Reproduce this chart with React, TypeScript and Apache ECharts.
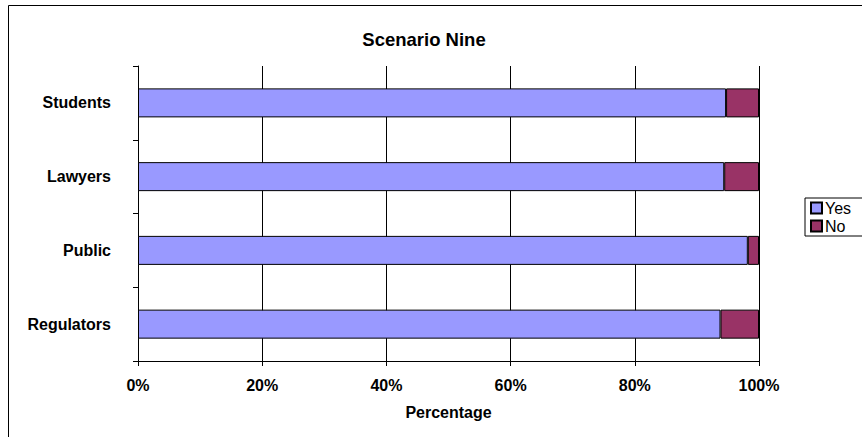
import React, { useEffect, useRef } from "react";
import * as echarts from "echarts";

// Survey groups, top to bottom
const categories = ["Students", "Lawyers", "Public", "Regulators"];
// Share of answers per group, in percent
const yesValues = [94.7, 94.4, 98.2, 93.8];
const noValues = [5.3, 5.6, 1.8, 6.2];
const seriesNames = ["Yes", "No"];
const xTicks = [0, 20, 40, 60, 80, 100];

const FONT = "'Liberation Sans', Arial, sans-serif";

export default function App() {
  const ref = useRef<HTMLDivElement>(null);

  useEffect(() => {
    if (!ref.current) return;
    const chart = echarts.init(ref.current, undefined, { renderer: "svg" });
    chart.setOption({
      animation: false,
      backgroundColor: "#ffffff",
      textStyle: { fontFamily: FONT, color: "#000" },
      title: {
        text: "Scenario Nine",
        left: 419,
        top: 25,
        textAlign: "center",
        textStyle: { fontFamily: FONT, fontSize: 18.5, fontWeight: "bold", color: "#000" },
      },
      graphic: [
        {
          type: "rect",
          silent: true,
          shape: { x: 8.5, y: 5.5, width: 900, height: 500 },
          style: { fill: "none", stroke: "#000", lineWidth: 1 },
        },
      ],
      legend: {
        orient: "vertical",
        left: 805,
        top: 198,
        data: seriesNames,
        icon: "rect",
        itemWidth: 11,
        itemHeight: 11,
        itemGap: 2,
        padding: [2, 12, 2, 5],
        borderColor: "#000",
        borderWidth: 1,
        textStyle: { fontFamily: FONT, fontSize: 16, color: "#000", padding: [0, 0, 0, -2] },
      },
      grid: { left: 138, right: 103, top: 66, bottom: 76, containLabel: false },
      xAxis: {
        type: "value",
        min: xTicks[0],
        max: xTicks[xTicks.length - 1],
        interval: 20,
        name: "Percentage",
        nameLocation: "middle",
        nameGap: 43,
        nameTextStyle: { fontFamily: FONT, fontSize: 16, fontWeight: "bold", color: "#000" },
        axisLine: { show: true, lineStyle: { color: "#000", width: 1 } },
        axisTick: { show: true, length: 5, lineStyle: { color: "#000" } },
        axisLabel: {
          formatter: "{value}%",
          margin: 16,
          fontFamily: FONT,
          fontSize: 16,
          fontWeight: "bold",
          color: "#000",
        },
        splitLine: { show: true, lineStyle: { color: "#000", width: 1 } },
      },
      yAxis: {
        type: "category",
        data: categories,
        inverse: true,
        axisLine: { show: true, lineStyle: { color: "#000", width: 1 } },
        axisTick: { show: true, length: 5, alignWithLabel: false, lineStyle: { color: "#000" } },
        axisLabel: {
          margin: 27,
          fontFamily: FONT,
          fontSize: 16,
          fontWeight: "bold",
          color: "#000",
        },
        splitLine: { show: false },
      },
      series: [
        {
          name: seriesNames[0],
          type: "bar",
          stack: "total",
          barWidth: 29,
          data: yesValues,
          itemStyle: { color: "#9999FF", borderColor: "#000", borderWidth: 1 },
        },
        {
          name: seriesNames[1],
          type: "bar",
          stack: "total",
          barWidth: 29,
          data: noValues,
          itemStyle: { color: "#993366", borderColor: "#000", borderWidth: 1 },
        },
      ],
    });
    return () => chart.dispose();
  }, []);

  return (
    <div
      ref={ref}
      style={{ position: "fixed", left: 0, top: 0, width: 862, height: 437 }}
    />
  );
}
